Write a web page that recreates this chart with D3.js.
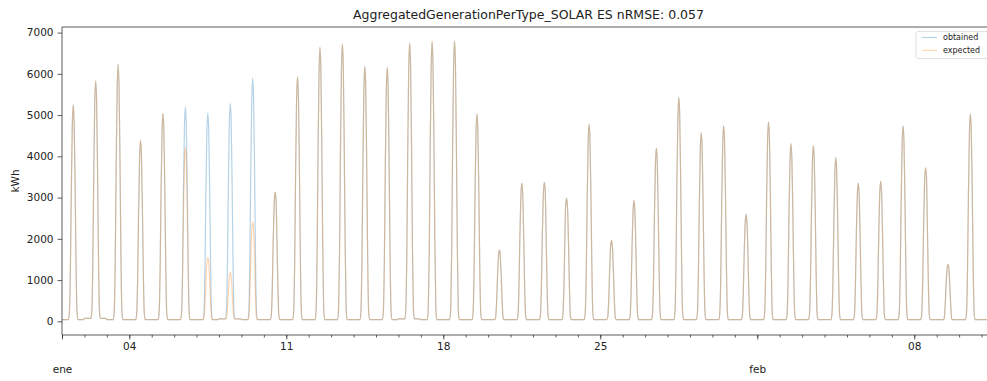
<!DOCTYPE html>
<html><head><meta charset="utf-8">
<script src="https://cdn.jsdelivr.net/npm/d3@7"></script>
<style>body{margin:0;background:#fff} text{font-family:"DejaVu Sans",sans-serif;fill:#222}</style>
</head><body><svg id="c" width="987" height="381"></svg>
<script>
const title = "AggregatedGenerationPerType_SOLAR ES nRMSE: 0.057";
const yLabel = "kWh";
const seriesNames = ["obtained", "expected"];
const seriesColors = ["#1f77b4", "#ff7f0e"];
const startDay = "2021-01-01";
const daylightHours = [8, 9, 10, 11, 12, 13, 14, 15, 16];
// expected hourly values for daylight hours 08..16, one row per day (Jan 1 .. Feb 10)
const expectedDaylight = [
  [260,1310,3260,4730,5250,4830,3360,1470,260],
  [290,1460,3610,5250,5830,5360,3730,1630,290],
  [310,1560,3860,5610,6230,5730,3990,1740,310],
  [220,1100,2720,3950,4390,4040,2810,1230,220],
  [250,1260,3120,4540,5040,4640,3230,1410,250],
  [210,1060,2620,3810,4230,3890,2710,1180,210],
  [80,390,960,1400,1550,1430,990,430,80],
  [60,300,730,1060,1180,1090,760,330,60],
  [120,610,1500,2180,2420,2230,1550,680,120],
  [160,780,1940,2820,3130,2960,2000,880,160],
  [300,1480,3680,5340,5930,5460,3800,1660,300],
  [330,1660,4120,5980,6640,6110,4250,1860,330],
  [340,1680,4170,6050,6720,6180,4300,1880,340],
  [310,1550,3830,5560,6180,5690,3960,1730,310],
  [310,1540,3810,5540,6150,5660,3940,1720,310],
  [340,1690,4190,6080,6750,6210,4320,1890,340],
  [340,1700,4200,6100,6780,6240,4340,1900,340],
  [340,1700,4220,6120,6800,6260,4350,1900,340],
  [250,1260,3120,4530,5030,4630,3220,1410,250],
  [90,430,1070,1560,1730,1590,1110,480,90],
  [170,840,2080,3020,3350,3080,2140,940,170],
  [170,840,2090,3030,3370,3200,2160,940,170],
  [150,750,1850,2850,2980,2740,1910,830,150],
  [240,1200,2960,4300,4780,4400,3060,1340,240],
  [100,490,1220,1800,1960,1800,1250,550,100],
  [150,730,1820,2640,2930,2700,1880,820,150],
  [210,1050,2600,3780,4200,3860,2690,1180,210],
  [270,1360,3370,4890,5430,5000,3480,1520,270],
  [230,1140,2830,4110,4570,4200,2920,1280,230],
  [240,1190,2940,4270,4740,4360,3030,1330,240],
  [130,650,1610,2340,2600,2390,1660,730,130],
  [240,1210,2990,4350,4830,4440,3090,1350,240],
  [220,1080,2670,3880,4310,3970,2760,1210,220],
  [210,1070,2640,3830,4260,3920,2730,1190,210],
  [200,990,2460,3570,3970,3650,2540,1110,200],
  [170,840,2080,3020,3360,3090,2150,940,170],
  [170,850,2110,3060,3400,3130,2180,950,170],
  [240,1190,2940,4270,4740,4360,3030,1330,240],
  [190,930,2310,3350,3720,3550,2380,1040,190],
  [70,350,860,1240,1380,1310,880,390,70],
  [250,1260,3120,4530,5030,4630,3220,1410,250]
];
// night-time level per day (Jan 1 .. Feb 11)
const nightLevel = [40,70,40,40,40,40,40,60,40,40,40,40,40,40,40,60,40,40,40,40,40,40,40,40,40,40,40,40,40,40,40,40,40,40,40,40,40,40,40,40,40,40];
// days (0-based) where obtained differs from expected, and its daylight values
const obtainedDays = [5, 6, 7, 8];
const obtainedDaylight = [
  [260,1300,3220,4680,5200,4780,3330,1460,260],
  [250,1260,3130,4550,5050,4650,3230,1410,250],
  [260,1320,3270,4750,5280,4860,3380,1480,260],
  [300,1480,3660,5310,5900,5430,3780,1650,300]
];
const yTicks = [0, 1000, 2000, 3000, 4000, 5000, 6000, 7000];
const xMajorDays = ["2021-01-01","2021-01-04","2021-01-11","2021-01-18","2021-01-25","2021-02-01","2021-02-08"];
const xMajorLabels = ["", "04", "11", "18", "25", "", "08"];
const monthDays = ["2021-01-01", "2021-02-01"];
const monthLabels = ["ene", "feb"];
const xEndDays = 41.6;
const yDomain = [-332, 7136];

const parse = s => new Date(s + "T00:00:00Z");
const t0 = parse(startDay);
const HOUR = 3600 * 1000, DAY = 24 * HOUR;

function buildSeries(daylight, overrideDays, overrideVals) {
  const out = [];
  for (let d = 0; d < nightLevel.length; d++) {
    for (let h = 0; h < 24; h++) {
      if (d === nightLevel.length - 1 && h > 7) break;
      let v = nightLevel[d];
      const hi = daylightHours.indexOf(h);
      if (hi >= 0 && d < daylight.length) {
        const oi = overrideDays ? overrideDays.indexOf(d) : -1;
        v = oi >= 0 ? overrideVals[oi][hi] : daylight[d][hi];
      }
      out.push({ t: new Date(+t0 + d * DAY + h * HOUR), v });
    }
  }
  return out;
}
const expected = buildSeries(expectedDaylight, null, null);
const obtained = buildSeries(expectedDaylight, obtainedDays, obtainedDaylight);

const svg = d3.select("#c");
const L = 62, R = 995, T = 27, B = 335;
const x = d3.scaleUtc().domain([t0, new Date(+t0 + xEndDays * DAY)]).range([L, R]);
const y = d3.scaleLinear().domain(yDomain).range([B, T]);

svg.append("defs").append("clipPath").attr("id", "clip")
  .append("rect").attr("x", L).attr("y", T).attr("width", R - L).attr("height", B - T);

const line = d3.line().curve(d3.curveMonotoneX).x(d => x(d.t)).y(d => y(d.v));
const g = svg.append("g").attr("clip-path", "url(#clip)");
[obtained, expected].forEach((s, i) => {
  g.append("path").datum(s).attr("d", line).attr("fill", "none")
    .attr("stroke", seriesColors[i]).attr("stroke-opacity", 0.33).attr("stroke-width", 1.2);
});

// y axis
const yAx = svg.append("g").attr("transform", `translate(${L},0)`)
  .call(d3.axisLeft(y).tickValues(yTicks).tickSize(4.5).tickPadding(4).tickFormat(d3.format("d")));
yAx.select(".domain").remove();
yAx.selectAll("text").attr("font-size", 10.5).attr("font-family", "DejaVu Sans");
yAx.selectAll("line").attr("stroke", "#333").attr("stroke-width", 0.8);

// x minor ticks (daily)
const minorDays = d3.utcDay.range(t0, new Date(+t0 + xEndDays * DAY));
const xMin = svg.append("g").attr("transform", `translate(0,${B})`)
  .call(d3.axisBottom(x).tickValues(minorDays).tickSize(2.5).tickFormat(""));
xMin.select(".domain").remove();
xMin.selectAll("line").attr("stroke", "#333").attr("stroke-width", 0.8);

const xMaj = svg.append("g").attr("transform", `translate(0,${B})`)
  .call(d3.axisBottom(x).tickValues(xMajorDays.map(parse)).tickSize(4.5).tickPadding(3)
    .tickFormat((d, i) => xMajorLabels[i]));
xMaj.select(".domain").remove();
xMaj.selectAll("line").attr("stroke", "#333").attr("stroke-width", 0.8);
xMaj.selectAll("text").attr("font-size", 10.5).attr("font-family", "DejaVu Sans");

const xMon = svg.append("g").attr("transform", `translate(0,${B})`)
  .call(d3.axisBottom(x).tickValues(monthDays.map(parse)).tickSize(0).tickPadding(31)
    .tickFormat((d, i) => monthLabels[i]));
xMon.select(".domain").remove();
xMon.selectAll("text").attr("font-size", 10.5).attr("font-family", "DejaVu Sans");

// spines
svg.append("line").attr("x1", L).attr("x2", L).attr("y1", T).attr("y2", B).attr("stroke", "#333").attr("stroke-width", 0.8);
svg.append("line").attr("x1", L).attr("x2", R).attr("y1", B).attr("y2", B).attr("stroke", "#333").attr("stroke-width", 0.8);
svg.append("line").attr("x1", L).attr("x2", R).attr("y1", T).attr("y2", T).attr("stroke", "#333").attr("stroke-width", 0.8);
svg.append("line").attr("x1", R).attr("x2", R).attr("y1", T).attr("y2", B).attr("stroke", "#333").attr("stroke-width", 0.8);

// title & label
svg.append("text").attr("x", (L + R) / 2).attr("y", 19).attr("text-anchor", "middle")
  .attr("font-size", 12.5).text(title);
svg.append("text").attr("transform", `translate(16,${(T + B) / 2}) rotate(-90)`)
  .attr("text-anchor", "middle").attr("dominant-baseline", "middle").attr("font-size", 10.5).text(yLabel);

// legend
const lg = svg.append("g");
lg.append("rect").attr("x", 916).attr("y", 31.5).attr("width", 74).attr("height", 27).attr("rx", 2)
  .attr("fill", "#fff").attr("fill-opacity", 0.8).attr("stroke", "#d8d8d8").attr("stroke-width", 0.8);
seriesNames.forEach((n, i) => {
  const yy = 37.5 + i * 12.8;
  lg.append("line").attr("x1", 922).attr("x2", 937).attr("y1", yy).attr("y2", yy)
    .attr("stroke", seriesColors[i]).attr("stroke-opacity", 0.33).attr("stroke-width", 1.2);
  lg.append("text").attr("x", 943).attr("y", yy).attr("dominant-baseline", "middle")
    .attr("font-size", 8).text(n);
});
</script></body></html>
